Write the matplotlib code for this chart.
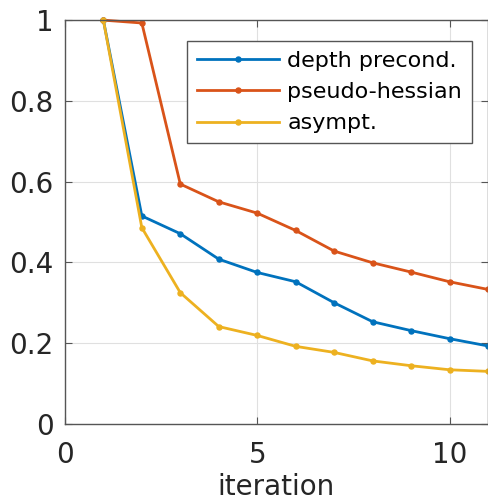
import numpy as np
import matplotlib
matplotlib.use("Agg")
import matplotlib.pyplot as plt

# values
iterations = [1, 2, 3, 4, 5, 6, 7, 8, 9, 10, 11]
depth_precond = [1.0, 0.515, 0.471, 0.408, 0.375, 0.352, 0.300, 0.253, 0.231, 0.211, 0.193]
pseudo_hessian = [1.0, 0.993, 0.594, 0.550, 0.522, 0.479, 0.428, 0.399, 0.376, 0.352, 0.333]
asympt = [1.0, 0.486, 0.325, 0.241, 0.219, 0.192, 0.177, 0.156, 0.144, 0.134, 0.130]

labels = ['depth precond.', 'pseudo-hessian', 'asympt.']
colors = ['#0072BD', '#D95319', '#EDB120']

fig = plt.figure(figsize=(4.88, 5.04), dpi=100)
ax = fig.add_axes([0.133, 0.159, 0.867, 0.801])

for ys, lab, c in zip([depth_precond, pseudo_hessian, asympt], labels, colors):
    ax.plot(iterations, ys, '-o', color=c, lw=2.0, ms=3.6, label=lab, clip_on=False)

ax.set_xlim(0, 11)
ax.set_ylim(0, 1)
ax.set_xticks([0, 5, 10])
ax.set_yticks([0, 0.2, 0.4, 0.6, 0.8, 1])
ax.set_yticklabels(['0', '0.2', '0.4', '0.6', '0.8', '1'])
ax.grid(True, color='#e0e0e0', lw=0.8)
ax.set_axisbelow(True)
ax.tick_params(direction='in', length=5, labelsize=20, colors='#555555',
               labelcolor='#262626', top=True, right=True)
ax.tick_params(axis='x', pad=12.5)
ax.tick_params(axis='y', pad=8)
for sp in ax.spines.values():
    sp.set_color('#555555')
    sp.set_linewidth(1.0)
ax.set_xlabel('iteration', fontsize=20, color='#262626', labelpad=3)

leg = ax.legend(loc='upper right', bbox_to_anchor=(0.962, 0.948), fontsize=16,
                fancybox=False, framealpha=1, edgecolor='#555555',
                handlelength=3.7, borderpad=0.45, labelspacing=0.5, handletextpad=0.35,
                borderaxespad=0)
leg.get_frame().set_linewidth(1.0)

fig.savefig('out.png', dpi=100)
